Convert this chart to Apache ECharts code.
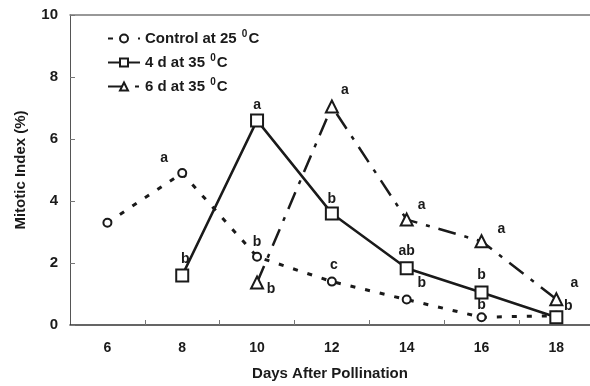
<!DOCTYPE html>
<html>
<head>
<meta charset="utf-8">
<script src="https://cdn.jsdelivr.net/npm/echarts@6/dist/echarts.min.js"></script>
<style>
  html, body { margin: 0; padding: 0; background: #fff; }
  #main { width: 590px; height: 386px; }
</style>
</head>
<body>
<div id="main"></div>
<script>
// days after pollination
var days = [6, 8, 10, 12, 14, 16, 18];
var seriesNames = ["Control at 25 \u2070C", "4 d at 35 \u2070C", "6 d at 35 \u2070C"];
var controlData = [3.3, 4.9, 2.2, 1.4, 0.82, 0.25, 0.3];
var fourDayData = [null, 1.6, 6.6, 3.6, 1.83, 1.05, 0.25];
var sixDayData = [null, null, 1.37, 7.05, 3.4, 2.7, 0.83];
// significance letters
var controlLetters = ["", "a", "b", "c", "b", "b", ""];
var fourDayLetters = ["", "b", "a", "b", "ab", "b", "b"];
var sixDayLetters = ["", "", "b", "a", "a", "a", "a"];
var xTickLabels = [6, 8, 10, 12, 14, 16, 18];
var xMinorTicks = [7, 9, 11, 13, 15, 17];

// label offsets (pixels) next to each point
var controlOffsets = [[0, 0], [-18, -15], [0, -15], [2, -16], [15, -16], [0, -12], [0, 0]];
var fourDayOffsets = [[0, 0], [3, -16], [0, -15], [0, -14], [0, -17], [0, -17], [12, -11]];
var sixDayOffsets = [[0, 0], [0, 0], [14, 7], [13, -16], [15, -14], [20, -12], [18, -16]];

function buildPoints(values, letters, offsets) {
  var pts = [];
  for (var i = 0; i < days.length; i++) {
    if (values[i] == null) continue;
    pts.push({
      value: [days[i], values[i]],
      label: {
        show: letters[i] !== "",
        formatter: letters[i],
        position: "inside",
        offset: offsets[i]
      }
    });
  }
  return pts;
}

var font = "Liberation Sans, Arial, sans-serif";
var ink = "#1a1a1a";

var labelStyle = {
  color: ink,
  fontSize: 14,
  fontWeight: "bold",
  fontFamily: font
};

var myChart = echarts.init(document.getElementById("main"));
var option = {
  animation: false,
  backgroundColor: "#fff",
  grid: { left: 70, right: 0, top: 15, bottom: 57 },
  legend: {
    orient: "vertical",
    left: 102,
    top: 24,
    itemGap: 7,
    itemWidth: 32,
    itemHeight: 10,
    data: seriesNames,
    formatter: function (name) {
      return "{t|" + name.replace("\u2070C", "") + "}{s|0}{t|C}";
    },
    textStyle: {
      color: ink,
      fontSize: 15,
      fontWeight: "bold",
      fontFamily: font,
      rich: {
        t: { fontSize: 15, fontWeight: "bold", color: ink, fontFamily: font },
        s: { fontSize: 10, fontWeight: "bold", color: ink, fontFamily: font, padding: [0, 1, 9, 1] }
      }
    }
  },
  xAxis: [
    {
      type: "value",
      min: 5,
      max: 18.9,
      name: "Days After Pollination",
      nameLocation: "middle",
      nameGap: 41,
      nameTextStyle: { color: ink, fontSize: 15, fontWeight: "bold", fontFamily: font },
      axisLine: { show: true, lineStyle: { color: "#333", width: 1.5 } },
      axisTick: { show: true, inside: true, length: 5, customValues: xMinorTicks, lineStyle: { color: "#777" } },
      axisLabel: {
        customValues: xTickLabels,
        margin: 16,
        color: ink,
        fontSize: 14,
        fontWeight: "bold",
        fontFamily: font
      },
      splitLine: { show: false }
    },
    {
      type: "value",
      position: "top",
      min: 5,
      max: 18.9,
      axisLine: { show: true, lineStyle: { color: "#777", width: 1.5 } },
      axisTick: { show: false },
      axisLabel: { show: false },
      splitLine: { show: false }
    }
  ],
  yAxis: {
    type: "value",
    min: 0,
    max: 10,
    interval: 2,
    name: "Mitotic Index (%)",
    nameLocation: "middle",
    nameGap: 42,
    nameTextStyle: { color: ink, fontSize: 15, fontWeight: "bold", fontFamily: font },
    axisLine: { show: true, lineStyle: { color: "#555", width: 1 } },
    axisTick: { show: true, inside: true, length: 5, lineStyle: { color: "#777" } },
    axisLabel: {
      margin: 12,
      color: ink,
      fontSize: 15,
      fontWeight: "bold",
      fontFamily: font
    },
    splitLine: { show: false }
  },
  series: [
    {
      name: seriesNames[0],
      type: "line",
      data: buildPoints(controlData, controlLetters, controlOffsets),
      symbol: "emptyCircle",
      symbolSize: 8,
      z: 3,
      itemStyle: { color: ink, borderWidth: 1 },
      lineStyle: { color: ink, width: 3, type: [5, 10] },
      label: labelStyle
    },
    {
      name: seriesNames[1],
      type: "line",
      data: buildPoints(fourDayData, fourDayLetters, fourDayOffsets),
      symbol: "emptyRect",
      symbolSize: 12,
      z: 4,
      itemStyle: { color: ink, borderWidth: 1 },
      lineStyle: { color: ink, width: 2.5, type: "solid" },
      label: labelStyle
    },
    {
      name: seriesNames[2],
      type: "line",
      data: buildPoints(sixDayData, sixDayLetters, sixDayOffsets),
      symbol: "emptyTriangle",
      symbolSize: 12,
      z: 3,
      itemStyle: { color: ink, borderWidth: 1 },
      lineStyle: { color: ink, width: 2.5, type: [18, 9, 4, 9] },
      label: labelStyle
    }
  ]
};
myChart.setOption(option);
</script>
</body>
</html>
